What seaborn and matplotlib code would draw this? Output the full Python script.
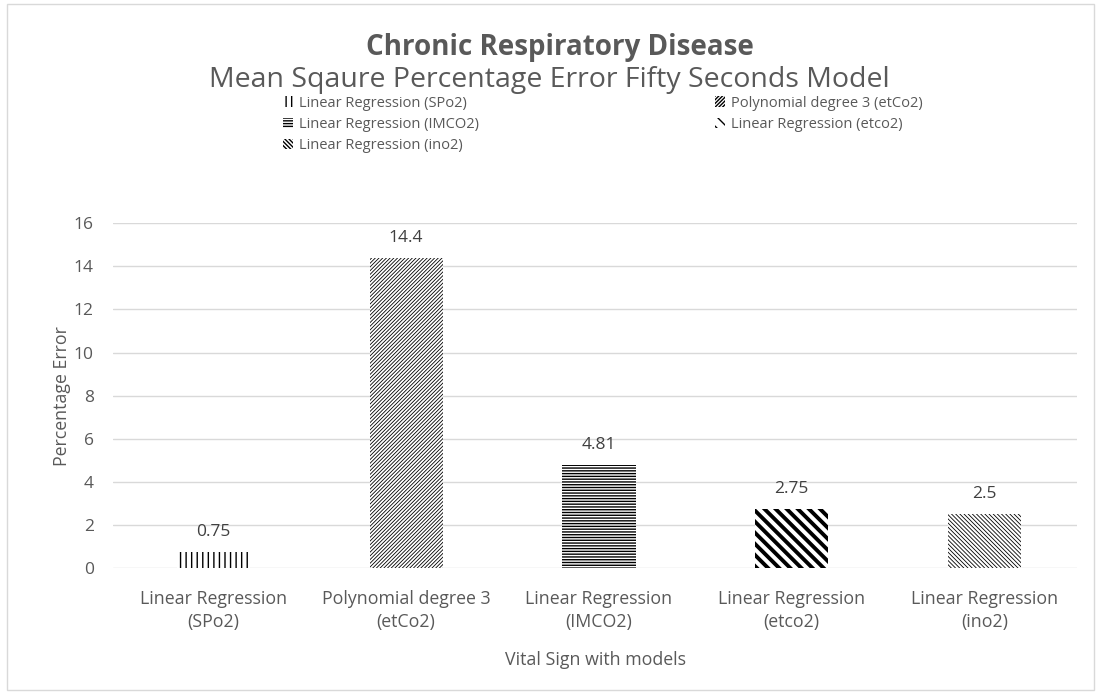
import matplotlib
matplotlib.use("Agg")
import matplotlib.pyplot as plt
import seaborn as sns
import pandas as pd
from matplotlib.patches import Patch, Rectangle

sns.set_theme(style="white")
plt.rcParams['font.family'] = ['Open Sans', 'DejaVu Sans']

# data
models = ["Linear Regression\n(SPo2)", "Polynomial degree 3\n(etCo2)", "Linear Regression\n(IMCO2)",
          "Linear Regression\n(etco2)", "Linear Regression\n(ino2)"]
legend_names = ["Linear Regression (SPo2)", "Polynomial degree 3 (etCo2)", "Linear Regression (IMCO2)",
                "Linear Regression (etco2)", "Linear Regression (ino2)"]
errors = [0.75, 14.4, 4.81, 2.75, 2.5]
hatches = ["|||", "/" * 9, "-" * 6, "\\" * 3, "\\" * 8]
hatch_lw = [1.0, 0.6, 1.0, 2.8, 0.6]

grey = "#595959"
df = pd.DataFrame({"model": models, "error": errors})

fig = plt.figure(figsize=(10.98, 6.93), dpi=100)
ax = fig.add_axes([0.103, 0.180, 0.878, 0.498])
sns.barplot(data=df, x="model", y="error", color="white", width=0.38, ax=ax, saturation=1)

for p, h, lw in zip(ax.patches, hatches, hatch_lw):
    p.set_facecolor("white")
    p.set_edgecolor("black")
    p.set_linewidth(0)
    p.set_hatch(h)
    if hasattr(p, "set_hatch_linewidth"):
        p.set_hatch_linewidth(lw)

for i, v in enumerate(errors):
    ax.text(i, v + 0.55, f"{v:g}", ha="center", va="bottom", fontsize=12.5, color="#404040")

ax.set_ylim(0, 16)
ax.set_yticks(range(0, 17, 2))
ax.set_xlim(-0.52, 4.48)
ax.grid(axis="y", color="#d9d9d9", linewidth=1)
ax.set_axisbelow(True)
for s in ax.spines.values():
    s.set_visible(False)
ax.tick_params(axis="y", length=0, labelsize=12.5, labelcolor=grey, pad=14)
ax.tick_params(axis="x", length=0, labelsize=12.8, labelcolor=grey, pad=16)
for t in ax.get_xticklabels():
    t.set_linespacing(1.35)
ax.set_xlabel("Vital Sign with models", fontsize=12.8, color=grey, labelpad=14)
ax.set_ylabel("Percentage Error", fontsize=12.8, color=grey, labelpad=2)

fig.text(0.51, 0.932, "Chronic Respiratory Disease", ha="center", va="center",
         fontsize=20, fontweight="bold", color=grey)
fig.text(0.50, 0.885, "Mean Sqaure Percentage Error Fifty Seconds Model", ha="center", va="center",
         fontsize=20.5, color=grey)

handles = []
for name, h in zip(legend_names, hatches):
    handles.append(Patch(facecolor="white", edgecolor="black", linewidth=0, hatch=h, label=name))
order = [0, 2, 4, 1, 3]
leg = fig.legend([handles[i] for i in order], [legend_names[i] for i in order],
                 loc="upper left", bbox_to_anchor=(0.246, 0.881), ncol=2, frameon=False,
                 fontsize=10.5, labelcolor=grey, handlelength=0.7, handleheight=0.7,
                 handletextpad=0.4, columnspacing=16.15, labelspacing=0.42)

fig.patches.append(Rectangle((0.006, 0.004), 0.99, 0.99, transform=fig.transFigure,
                             fill=False, edgecolor="#d9d9d9", linewidth=1))

fig.savefig("out.png", dpi=100, facecolor="white")
